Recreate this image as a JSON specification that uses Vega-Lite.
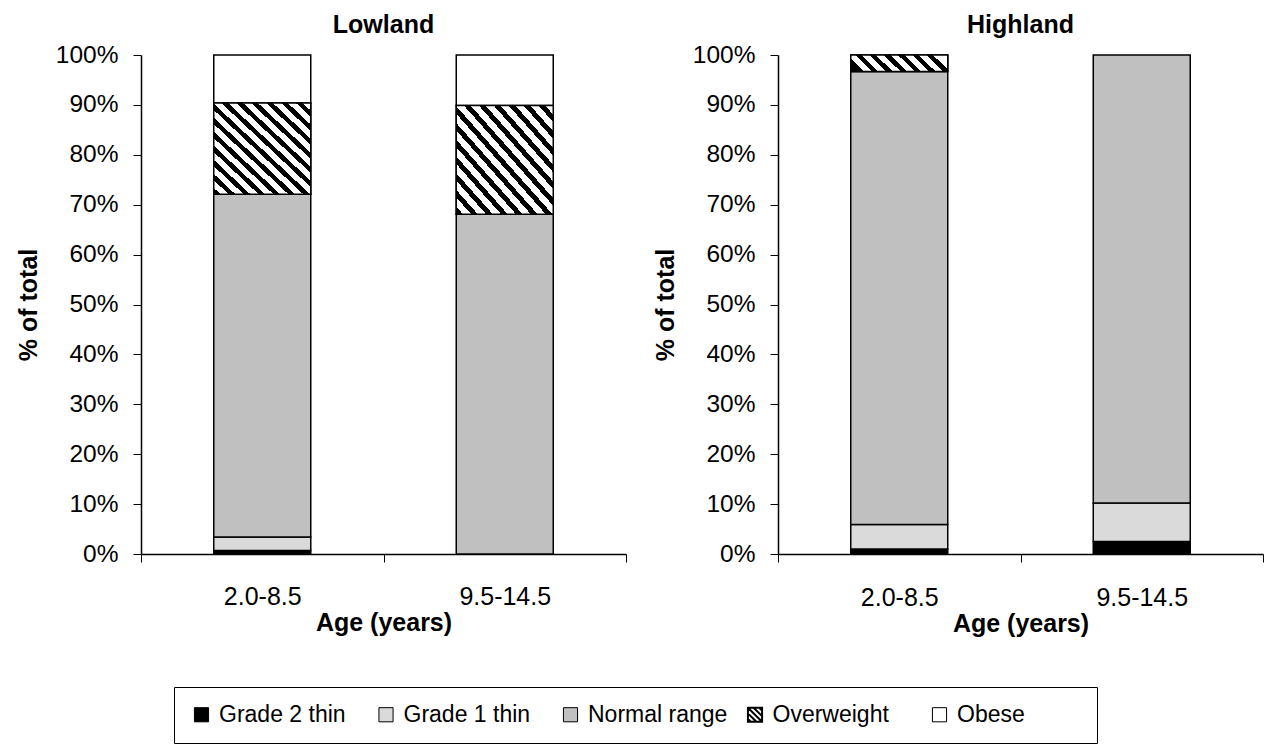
{
  "$schema": "https://vega.github.io/schema/vega-lite/v6.json",
  "padding": {"left": 16, "top": 13, "right": 0, "bottom": 0},
  "background": "white",
  "config": {
    "view": {"stroke": null},
    "font": "Liberation Sans",
    "axis": {"labelFont": "Liberation Sans", "titleFont": "Liberation Sans", "labelColor": "black", "titleColor": "black", "domainColor": "black", "tickColor": "black", "grid": false},
    "title": {"font": "Liberation Sans", "fontSize": 25, "fontWeight": "bold", "color": "black", "offset": 4}
  },
  "datasets": {
    "lowland": [
      {"age": "2.0-8.5", "category": "Grade 2 thin", "pct": 0.7},
      {"age": "2.0-8.5", "category": "Grade 1 thin", "pct": 2.7},
      {"age": "2.0-8.5", "category": "Normal range", "pct": 68.7},
      {"age": "2.0-8.5", "category": "Overweight", "pct": 18.3},
      {"age": "2.0-8.5", "category": "Obese", "pct": 9.6},
      {"age": "9.5-14.5", "category": "Grade 2 thin", "pct": 0},
      {"age": "9.5-14.5", "category": "Grade 1 thin", "pct": 0},
      {"age": "9.5-14.5", "category": "Normal range", "pct": 68.1},
      {"age": "9.5-14.5", "category": "Overweight", "pct": 21.8},
      {"age": "9.5-14.5", "category": "Obese", "pct": 10.1}
    ],
    "highland": [
      {"age": "2.0-8.5", "category": "Grade 2 thin", "pct": 1.0},
      {"age": "2.0-8.5", "category": "Grade 1 thin", "pct": 4.9},
      {"age": "2.0-8.5", "category": "Normal range", "pct": 90.8},
      {"age": "2.0-8.5", "category": "Overweight", "pct": 3.3},
      {"age": "2.0-8.5", "category": "Obese", "pct": 0},
      {"age": "9.5-14.5", "category": "Grade 2 thin", "pct": 2.5},
      {"age": "9.5-14.5", "category": "Grade 1 thin", "pct": 7.7},
      {"age": "9.5-14.5", "category": "Normal range", "pct": 89.8},
      {"age": "9.5-14.5", "category": "Overweight", "pct": 0},
      {"age": "9.5-14.5", "category": "Obese", "pct": 0}
    ]
  },
  "bounds": "flush",
  "spacing": 152,
  "resolve": {"legend": {"color": "independent"}},
  "hconcat": [
    {
      "title": "Lowland",
      "width": 485,
      "height": 499,
      "data": {"name": "lowland"},
      "transform": [
        {"calculate": "indexof(['Grade 2 thin', 'Grade 1 thin', 'Normal range', 'Overweight', 'Obese'], datum.category)", "as": "rank"},
        {"stack": "pct", "groupby": ["age"], "sort": [{"field": "rank", "order": "ascending"}], "as": ["lo", "hi"]}
      ],
      "encoding": {
        "x": {"field": "age", "type": "nominal", "scale": {"paddingInner": 0, "paddingOuter": 0},
          "axis": {"title": "Age (years)", "labelAngle": 0, "labelFontSize": 25, "titleFontSize": 25, "titleFontWeight": "bold", "tickBand": "extent", "tickSize": 8, "labelPadding": 22, "titlePadding": 1, "domainWidth": 1.5}},
        "y": {"field": "lo", "type": "quantitative", "scale": {"domain": [0, 100], "nice": false},
          "axis": {"title": "% of total", "values": [0, 10, 20, 30, 40, 50, 60, 70, 80, 90, 100], "labelExpr": "datum.value + '%'", "labelFontSize": 24.5, "titleFontSize": 25, "titleFontWeight": "bold", "tickSize": 8, "labelPadding": 15, "titlePadding": 14, "domainWidth": 1.5}},
        "y2": {"field": "hi"}
      },
      "layer": [
        {
          "mark": {"type": "bar", "stroke": "black", "strokeWidth": 1.5, "width": {"band": 0.4}},
          "encoding": {
            "color": {"field": "category", "type": "nominal",
              "scale": {"domain": ["Grade 2 thin", "Grade 1 thin", "Normal range", "Overweight", "Obese"],
                "range": ["#000000", "#dadada", "#c0c0c0", "#ffffff", "#ffffff"]},
              "legend": {"title": " ", "titleOrient": "right", "titlePadding": 56, "titleFontSize": 23, "orient": "none", "legendX": 33, "legendY": 632, "direction": "horizontal", "strokeColor": "black", "padding": 16, "gridAlign": "all", "columnPadding": 15.5, "symbolType": "square", "symbolSize": 200, "symbolStrokeColor": "black", "symbolStrokeWidth": 1, "labelFontSize": 23, "labelFont": "Liberation Sans", "labelColor": "black", "labelOffset": 6, "labelLimit": 300,
                "encode": {"symbols": {"update": {
                  "shape": {"signal": "datum.value === 'Overweight' ? 'M-1,-1H1V1H-1Z M-1,-1L1,1 M-0.2,-1L1,0.2 M-1,-0.2L0.2,1 M0.6,-1L1,-0.6 M-1,0.6L-0.6,1' : 'square'"},
                  "stroke": {"value": "black"},
                  "strokeWidth": {"signal": "datum.value === 'Overweight' ? 2 : 1"},
                  "opacity": {"value": 1}}}}}}
          }
        },
        {
          "transform": [{"filter": "datum.category === 'Overweight' && datum.pct > 0"}],
          "mark": {"type": "bar", "stroke": "black", "strokeWidth": 1.5, "width": {"band": 0.4},
            "fill": {"gradient": "linear", "x1": 0, "y1": 1, "x2": 1, "y2": 0, "stops": [
                {"offset": 0, "color": "black"}, {"offset": 0.0346, "color": "black"}, {"offset": 0.0346, "color": "white"}, {"offset": 0.0769, "color": "white"},
                {"offset": 0.0769, "color": "black"}, {"offset": 0.1115, "color": "black"}, {"offset": 0.1115, "color": "white"}, {"offset": 0.1538, "color": "white"},
                {"offset": 0.1538, "color": "black"}, {"offset": 0.1885, "color": "black"}, {"offset": 0.1885, "color": "white"}, {"offset": 0.2308, "color": "white"},
                {"offset": 0.2308, "color": "black"}, {"offset": 0.2654, "color": "black"}, {"offset": 0.2654, "color": "white"}, {"offset": 0.3077, "color": "white"},
                {"offset": 0.3077, "color": "black"}, {"offset": 0.3423, "color": "black"}, {"offset": 0.3423, "color": "white"}, {"offset": 0.3846, "color": "white"},
                {"offset": 0.3846, "color": "black"}, {"offset": 0.4192, "color": "black"}, {"offset": 0.4192, "color": "white"}, {"offset": 0.4615, "color": "white"},
                {"offset": 0.4615, "color": "black"}, {"offset": 0.4962, "color": "black"}, {"offset": 0.4962, "color": "white"}, {"offset": 0.5385, "color": "white"},
                {"offset": 0.5385, "color": "black"}, {"offset": 0.5731, "color": "black"}, {"offset": 0.5731, "color": "white"}, {"offset": 0.6154, "color": "white"},
                {"offset": 0.6154, "color": "black"}, {"offset": 0.65, "color": "black"}, {"offset": 0.65, "color": "white"}, {"offset": 0.6923, "color": "white"},
                {"offset": 0.6923, "color": "black"}, {"offset": 0.7269, "color": "black"}, {"offset": 0.7269, "color": "white"}, {"offset": 0.7692, "color": "white"},
                {"offset": 0.7692, "color": "black"}, {"offset": 0.8038, "color": "black"}, {"offset": 0.8038, "color": "white"}, {"offset": 0.8462, "color": "white"},
                {"offset": 0.8462, "color": "black"}, {"offset": 0.8808, "color": "black"}, {"offset": 0.8808, "color": "white"}, {"offset": 0.9231, "color": "white"},
                {"offset": 0.9231, "color": "black"}, {"offset": 0.9577, "color": "black"}, {"offset": 0.9577, "color": "white"}, {"offset": 1, "color": "white"}
              ]}},
          "encoding": {}
        }
      ]
    },
    {
      "title": "Highland",
      "width": 485,
      "height": 499,
      "data": {"name": "highland"},
      "transform": [
        {"calculate": "indexof(['Grade 2 thin', 'Grade 1 thin', 'Normal range', 'Overweight', 'Obese'], datum.category)", "as": "rank"},
        {"stack": "pct", "groupby": ["age"], "sort": [{"field": "rank", "order": "ascending"}], "as": ["lo", "hi"]}
      ],
      "encoding": {
        "x": {"field": "age", "type": "nominal", "scale": {"paddingInner": 0, "paddingOuter": 0},
          "axis": {"title": "Age (years)", "labelAngle": 0, "labelFontSize": 25, "titleFontSize": 25, "titleFontWeight": "bold", "tickBand": "extent", "tickSize": 8, "labelPadding": 23, "titlePadding": 1, "domainWidth": 1.5}},
        "y": {"field": "lo", "type": "quantitative", "scale": {"domain": [0, 100], "nice": false},
          "axis": {"title": "% of total", "values": [0, 10, 20, 30, 40, 50, 60, 70, 80, 90, 100], "labelExpr": "datum.value + '%'", "labelFontSize": 24.5, "titleFontSize": 25, "titleFontWeight": "bold", "tickSize": 8, "labelPadding": 15, "titlePadding": 14, "domainWidth": 1.5}},
        "y2": {"field": "hi"}
      },
      "layer": [
        {
          "transform": [{"filter": "datum.pct > 0"}],
          "mark": {"type": "bar", "stroke": "black", "strokeWidth": 1.5, "width": {"band": 0.4}},
          "encoding": {
            "color": {"field": "category", "type": "nominal",
              "scale": {"domain": ["Grade 2 thin", "Grade 1 thin", "Normal range", "Overweight", "Obese"],
                "range": ["#000000", "#dadada", "#c0c0c0", "#ffffff", "#ffffff"]},
              "legend": null}
          }
        },
        {
          "transform": [{"filter": "datum.category === 'Overweight' && datum.pct > 0"}],
          "mark": {"type": "bar", "stroke": "black", "strokeWidth": 1.5, "width": {"band": 0.4},
            "fill": {"gradient": "linear", "x1": 0, "y1": 0.5875, "x2": 1, "y2": 0.4125, "stops": [
                {"offset": 0, "color": "black"}, {"offset": 0.0643, "color": "black"}, {"offset": 0.0643, "color": "white"}, {"offset": 0.1429, "color": "white"},
                {"offset": 0.1429, "color": "black"}, {"offset": 0.2071, "color": "black"}, {"offset": 0.2071, "color": "white"}, {"offset": 0.2857, "color": "white"},
                {"offset": 0.2857, "color": "black"}, {"offset": 0.35, "color": "black"}, {"offset": 0.35, "color": "white"}, {"offset": 0.4286, "color": "white"},
                {"offset": 0.4286, "color": "black"}, {"offset": 0.4929, "color": "black"}, {"offset": 0.4929, "color": "white"}, {"offset": 0.5714, "color": "white"},
                {"offset": 0.5714, "color": "black"}, {"offset": 0.6357, "color": "black"}, {"offset": 0.6357, "color": "white"}, {"offset": 0.7143, "color": "white"},
                {"offset": 0.7143, "color": "black"}, {"offset": 0.7786, "color": "black"}, {"offset": 0.7786, "color": "white"}, {"offset": 0.8571, "color": "white"},
                {"offset": 0.8571, "color": "black"}, {"offset": 0.9214, "color": "black"}, {"offset": 0.9214, "color": "white"}, {"offset": 1, "color": "white"}
              ]}},
          "encoding": {}
        }
      ]
    }
  ]
}
